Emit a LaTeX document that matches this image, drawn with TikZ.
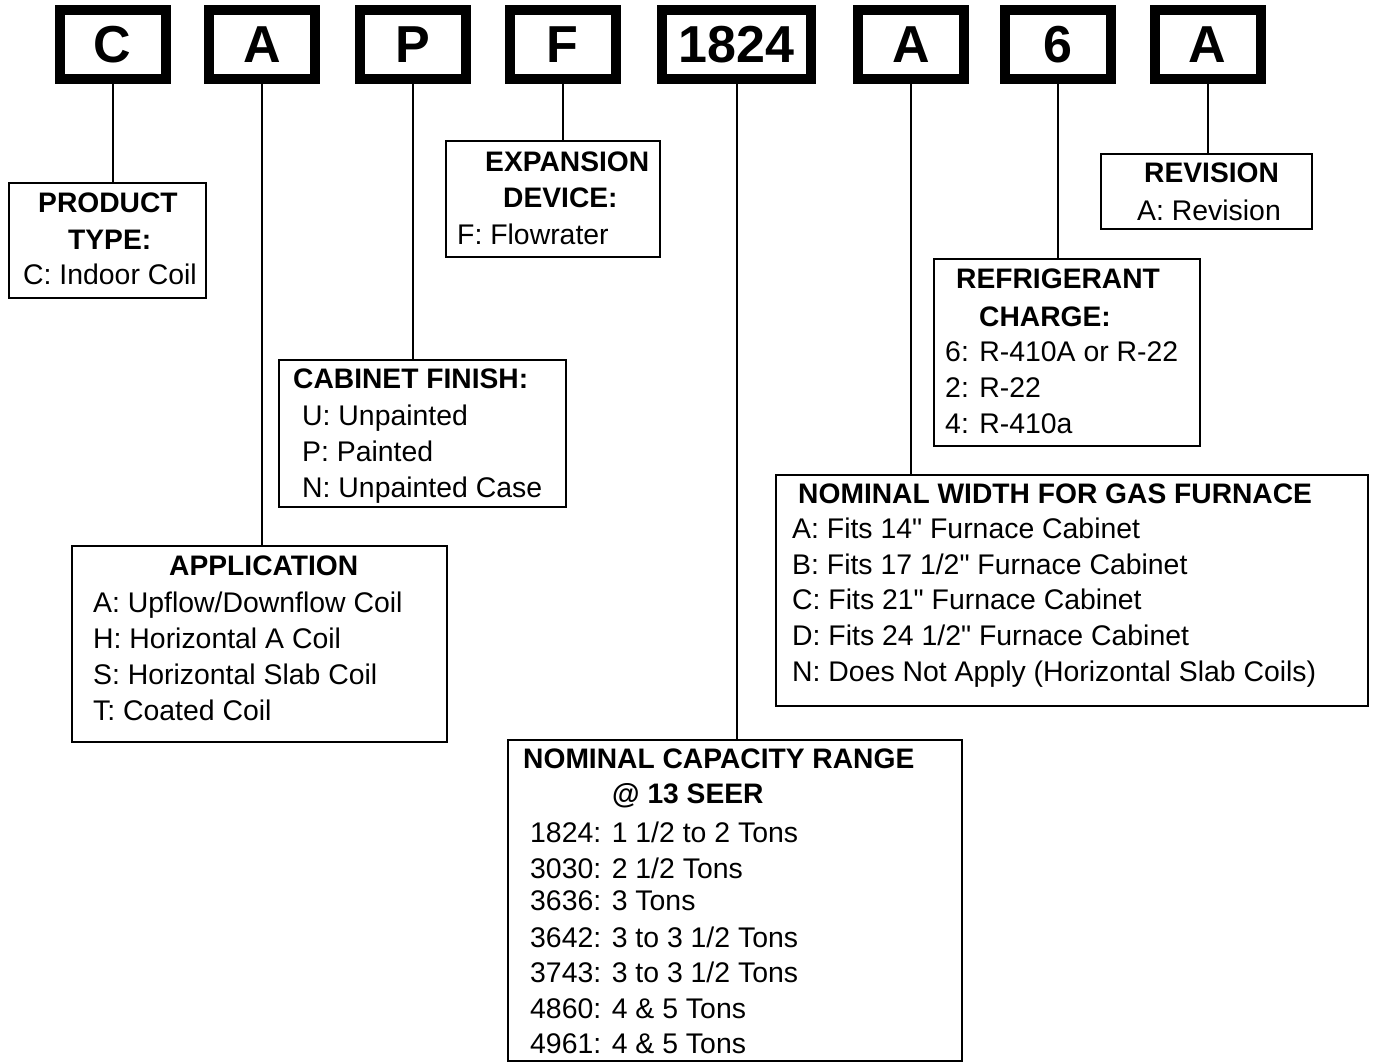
\documentclass[tikz,border=0pt]{standalone}
\usepackage{fontspec}
\setmainfont{Liberation Sans}
\usepackage{tikz}

\begin{document}
\begin{tikzpicture}[x=1pt, y=-1pt,
    codebox/.style={draw, line width=10pt, minimum height=69pt, inner sep=0pt,
        font=\fontsize{52}{60}\selectfont\bfseries},
    infobox/.style={draw, line width=1.7pt, inner sep=0pt},
    conn/.style={line width=2pt},
    txt/.style={anchor=base west, inner sep=0pt, font=\fontsize{28.4}{34}\selectfont},
    hd/.style={txt, font=\fontsize{28.2}{34}\selectfont\bfseries}]
    \useasboundingbox (0,0) rectangle (1375,1063);
    % model number boxes
    \foreach \nm/\x/\w/\t in {prod/112.5/106/C, appl/262/106/A, cab/413/106/P,
        expn/562.5/106/F, cap/736.5/149/1824, wid/911/106/A, refr/1057.5/106/6,
        rev/1207.5/106/A} {
        \node[codebox, minimum width=\w pt] (\nm) at (\x,44.5) {\t};
    }
    % description boxes
    \node[infobox, minimum width=197pt, minimum height=115pt] (prodbox) at (107.5,240.5) {};
    \node[infobox, minimum width=214pt, minimum height=116pt] (expnbox) at (553,199) {};
    \node[infobox, minimum width=287pt, minimum height=147pt] (cabbox) at (422.5,433.5) {};
    \node[infobox, minimum width=375pt, minimum height=196pt] (applbox) at (259.5,644) {};
    \node[infobox, minimum width=211pt, minimum height=75pt] (revbox) at (1206.5,191.5) {};
    \node[infobox, minimum width=266pt, minimum height=187pt] (refrbox) at (1067,352.5) {};
    \node[infobox, minimum width=592pt, minimum height=231pt] (widbox) at (1072,590.5) {};
    \node[infobox, minimum width=454pt, minimum height=321pt] (capbox) at (735,900.5) {};
    \foreach \a/\b in {prod/prodbox, appl/applbox, cab/cabbox, expn/expnbox,
        cap/capbox, wid/widbox, refr/refrbox, rev/revbox} {
        \draw[conn] (\a.south) -- (\a.south |- \b.north);
    }
    % product type
    \node[hd] (prodh1) at (38,212) {PRODUCT};
    \node[hd] (prodh2) at (68,249) {TYPE:};
    \node[txt] (prod1) at (23,284) {C: Indoor Coil};
    % expansion device
    \node[hd] (expnh1) at (485,171) {EXPANSION};
    \node[hd] (expnh2) at (503,207) {DEVICE:};
    \node[txt] (expn1) at (457,244) {F: Flowrater};
    % cabinet finish
    \node[hd] (cabh) at (293,388) {CABINET FINISH:};
    \foreach \t [count=\i] in {U: Unpainted, P: Painted, N: Unpainted Case}
        \node[txt] (cab\i) at (302,389+36*\i) {\t};
    % application
    \node[hd] (applh) at (169,575) {APPLICATION};
    \foreach \t [count=\i] in {A: Upflow/Downflow Coil, H: Horizontal A Coil,
        S: Horizontal Slab Coil, T: Coated Coil}
        \node[txt] (appl\i) at (93,576+36*\i) {\t};
    % revision
    \node[hd] (revh) at (1144,182) {REVISION};
    \node[txt] (rev1) at (1137,220) {A: Revision};
    % refrigerant charge
    \node[hd] (refrh1) at (956,288) {REFRIGERANT};
    \node[hd] (refrh2) at (979,326) {CHARGE:};
    \foreach \t [count=\i] in {6: R-410A or R-22, 2: R-22, 4: R-410a}
        \node[txt] (refr\i) at (945,326+35.7*\i) {\t};
    % nominal width
    \node[hd] (widh) at (798,503) {NOMINAL WIDTH FOR GAS FURNACE};
    \foreach \t [count=\i] in {A: Fits 14\textquotedbl{} Furnace Cabinet,
        B: Fits 17 1/2\textquotedbl{} Furnace Cabinet,
        C: Fits 21\textquotedbl{} Furnace Cabinet,
        D: Fits 24 1/2\textquotedbl{} Furnace Cabinet,
        N: Does Not Apply (Horizontal Slab Coils)}
        \node[txt] (wid\i) at (792,503+35.6*\i) {\t};
    % nominal capacity
    \node[hd] (caph1) at (523,768) {NOMINAL CAPACITY RANGE};
    \node[hd] (caph2) at (612,803) {@ 13 SEER};
    \foreach \y/\t [count=\i] in {842/{1824: 1 1/2 to 2 Tons}, 878/{3030: 2 1/2 Tons},
        910/{3636: 3 Tons}, 947/{3642: 3 to 3 1/2 Tons}, 982/{3743: 3 to 3 1/2 Tons},
        1018/{4860: 4 \& 5 Tons}, 1053/{4961: 4 \& 5 Tons}}
        \node[txt] (cap\i) at (530,\y) {\t};
\end{tikzpicture}
\end{document}
